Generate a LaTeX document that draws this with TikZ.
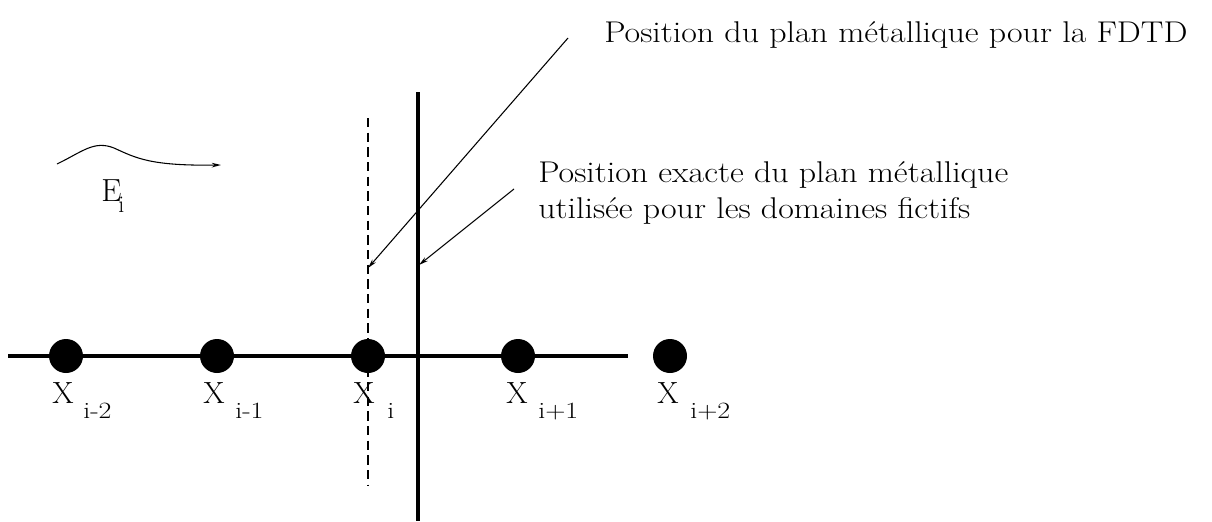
\documentclass[tikz,border=0pt]{standalone}
\usetikzlibrary{arrows.meta}
\newcommand{\wid}[1]{\scalebox{1.13}[1]{#1}}
\newcommand{\swid}[1]{\scalebox{1.2}[1]{#1}}
\begin{document}
\begin{tikzpicture}[x=0.75pt,y=-0.75pt,
  thickline/.style={line width=2.4pt},
  thinline/.style={line width=0.8pt},
  dashline/.style={line width=0.8pt,dash pattern=on 7pt off 4pt},
  dot/.style={circle,fill=black,inner sep=0pt,minimum size=25.5pt},
  lab/.style={inner sep=0pt,anchor=base west,font=\fontsize{23}{27}\selectfont},
  sublab/.style={inner sep=0pt,anchor=base west,font=\fontsize{17.5}{21}\selectfont},
  txt/.style={inner sep=0pt,anchor=base west,font=\fontsize{22.5}{27}\selectfont},
  tip/.style={-{Stealth[length=7pt,width=3.5pt,open]}}
]
\useasboundingbox (0,0) rectangle (1212,521);
% axes
\coordinate (hl) at (8,356);
\coordinate (hr) at (628,356);
\coordinate (vt) at (418,92);
\coordinate (vb) at (418,521);
\coordinate (dt) at (368,118);
\coordinate (db) at (368,485);
\draw[dashline] (dt) -- (db);
\draw[thickline] (vt) -- (vb);
\draw[thickline] (hl) -- (hr);
% dots
\node[dot] (d1) at (66,356) {};
\node[dot] (d2) at (217,356) {};
\node[dot] (d3) at (368,356) {};
\node[dot] (d4) at (518,356) {};
\node[dot] (d5) at (670,356) {};
% labels
\node[lab] (x1) at (52,403) {X};
\node[sublab] (s1) at (83,418) {\swid{i-2}};
\node[lab] (x2) at (203,403) {X};
\node[sublab] (s2) at (235,418) {\swid{i-1}};
\node[lab] (x3) at (353,403) {X};
\node[sublab] (s3) at (387,418) {\swid{i}};
\node[lab] (x4) at (506,403) {X};
\node[sublab] (s4) at (538,418) {\swid{i+1}};
\node[lab] (x5) at (657,403) {X};
\node[sublab] (s5) at (690,418) {\swid{i+2}};
% wave
\coordinate (w0) at (57,164);
\coordinate (w1) at (221,165);
\draw[thinline,tip] (w0) .. controls (82,152) and (94,140) .. (114,148)
   .. controls (136,158) and (150,166) .. (w1);
\node[lab,font=\fontsize{24}{28}\selectfont] (E) at (101,201) {E};
\node[sublab,font=\fontsize{18}{22}\selectfont] (Ei) at (118,212) {i};
% texts
\node[txt] (t1) at (604,42) {\wid{Position du plan m\'etallique pour la FDTD}};
\node[txt] (t2) at (538,182) {\wid{Position exacte du plan m\'etallique}};
\node[txt] (t3) at (538,218) {\wid{utilis\'ee pour les domaines fictifs}};
\coordinate (a1) at (568,38);
\coordinate (a1e) at (368,268);
\coordinate (a2) at (514,189);
\coordinate (a2e) at (419,265);
\draw[thinline,tip] (a1) -- (a1e);
\draw[thinline,tip] (a2) -- (a2e);
\end{tikzpicture}
\end{document}
